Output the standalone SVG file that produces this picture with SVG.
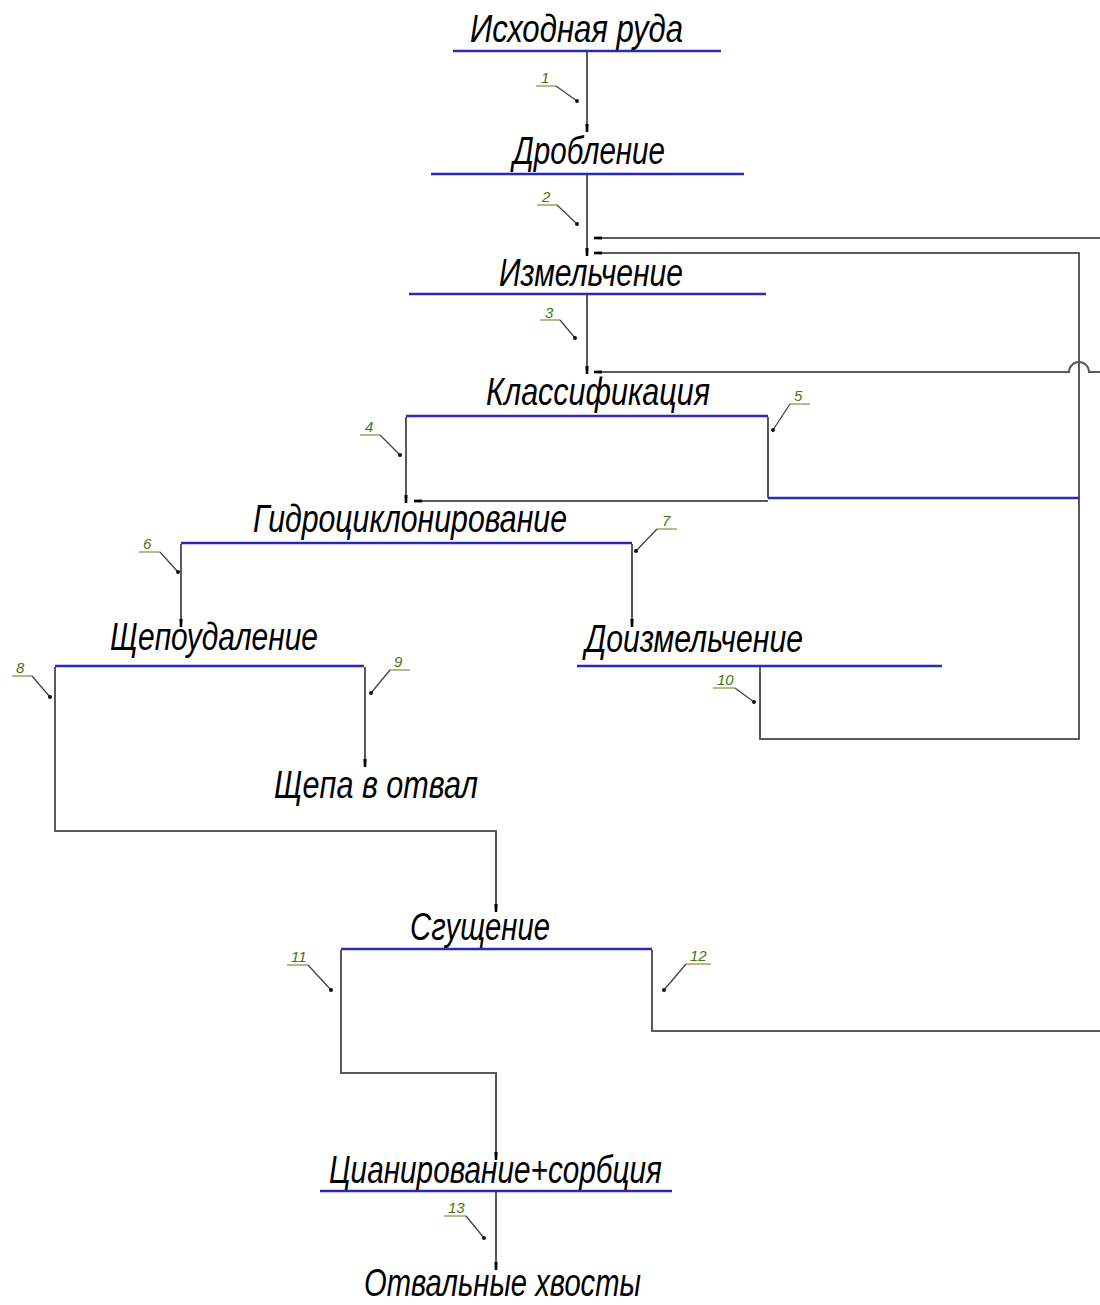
<svg xmlns="http://www.w3.org/2000/svg" width="1100" height="1305" viewBox="0 0 1100 1305">
<style>
.lbl{font-family:"Liberation Sans Narrow","Liberation Sans","DejaVu Sans",sans-serif;font-style:italic;font-size:38px;fill:#000}
.bar{stroke:#2a2ab8;stroke-width:2.6;fill:none}
.con{stroke:#5a5a5a;stroke-width:2;fill:none;marker-end:url(#tick)}
.conn{stroke:#5a5a5a;stroke-width:2;fill:none}
.num{font-family:"Liberation Sans","DejaVu Sans",sans-serif;font-style:italic;font-size:15px;fill:#3d7a12}
.ul{stroke:#9a9a5a;stroke-width:1.4;fill:none}
.ld{stroke:#444;stroke-width:1.3;fill:none}
.dot{fill:#111}
</style>
<defs>
<marker id="tick" markerUnits="userSpaceOnUse" markerWidth="10" markerHeight="6" viewBox="0 -3 10 6" refX="8" refY="0" orient="auto">
<path d="M0,-1.6 L8,-1.2 L8,1.2 L0,1.6 Z" fill="#000"/>
</marker>
</defs>
<rect width="1100" height="1305" fill="#fff"/>

<g id="connectors">
<path class="con" d="M587,52 V132"/>
<path class="con" d="M587,175 V256"/>
<path class="con" d="M1100,238 H594"/>
<path class="con" d="M760,667 V739 H1079 V253 H594"/>
<path class="con" d="M587,295 V374"/>
<path class="con" d="M1100,372 H1089 A10,10 0 0 0 1069,372 H594"/>
<path class="con" d="M406,417 V503"/>
<path class="con" d="M768,501 H414"/>
<path class="conn" d="M768,417 V498"/>
<path class="bar" d="M768,498 H1079"/>
<path class="con" d="M181,544 V627"/>
<path class="con" d="M632,544 V627"/>
<path class="con" d="M55,667 V831 H496 V912"/>
<path class="con" d="M365,667 V767"/>
<path class="con" d="M341,950 V1073 H496 V1160"/>
<path class="conn" d="M652,950 V1031 H1100"/>
<path class="con" d="M496,1192 V1270"/>
</g>

<g id="n-ishodnaya"><text class="lbl" x="470" y="42" textLength="213" lengthAdjust="spacingAndGlyphs">Исходная руда</text><line class="bar" x1="453" y1="51" x2="721" y2="51"/></g>
<g id="n-droblenie"><text class="lbl" x="513" y="164" textLength="152" lengthAdjust="spacingAndGlyphs">Дробление</text><line class="bar" x1="431" y1="174" x2="744" y2="174"/></g>
<g id="n-izmelchenie"><text class="lbl" x="499" y="286" textLength="184" lengthAdjust="spacingAndGlyphs">Измельчение</text><line class="bar" x1="409" y1="294" x2="766" y2="294"/></g>
<g id="n-klassifikaciya"><text class="lbl" x="486" y="405" textLength="224" lengthAdjust="spacingAndGlyphs">Классификация</text><line class="bar" x1="406" y1="416" x2="768" y2="416"/></g>
<g id="n-gidro"><text class="lbl" x="253" y="532" textLength="314" lengthAdjust="spacingAndGlyphs">Гидроциклонирование</text><line class="bar" x1="181" y1="543" x2="632" y2="543"/></g>
<g id="n-shchepoud"><text class="lbl" x="110" y="650" textLength="208" lengthAdjust="spacingAndGlyphs">Щепоудаление</text><line class="bar" x1="55" y1="666" x2="364" y2="666"/></g>
<g id="n-doizmel"><text class="lbl" x="585" y="652" textLength="218" lengthAdjust="spacingAndGlyphs">Доизмельчение</text><line class="bar" x1="577" y1="666" x2="942" y2="666"/></g>
<g id="n-shchepa"><text class="lbl" x="274" y="798" textLength="204" lengthAdjust="spacingAndGlyphs">Щепа в отвал</text></g>
<g id="n-sgushchenie"><text class="lbl" x="410" y="940" textLength="140" lengthAdjust="spacingAndGlyphs">Сгущение</text><line class="bar" x1="341" y1="949" x2="652" y2="949"/></g>
<g id="n-cianir"><text class="lbl" x="329" y="1183" textLength="333" lengthAdjust="spacingAndGlyphs">Цианирование+сорбция</text><line class="bar" x1="320" y1="1191" x2="672" y2="1191"/></g>
<g id="n-otval"><text class="lbl" x="364" y="1296" textLength="277" lengthAdjust="spacingAndGlyphs">Отвальные хвосты</text></g>

<g id="leaders">
<g id="l1"><text class="num" x="541" y="83">1</text><path class="ul" d="M536,86 H556"/><path class="ld" d="M556,86 L577,101"/><circle class="dot" cx="577" cy="101" r="2"/></g>
<g id="l2"><text class="num" x="542" y="202">2</text><path class="ul" d="M537,205 H557"/><path class="ld" d="M557,205 L577,224"/><circle class="dot" cx="577" cy="224" r="2"/></g>
<g id="l3"><text class="num" x="545" y="318">3</text><path class="ul" d="M540,320 H560"/><path class="ld" d="M560,320 L575,338"/><circle class="dot" cx="575" cy="338" r="2"/></g>
<g id="l4"><text class="num" x="365" y="432">4</text><path class="ul" d="M360,435 H380"/><path class="ld" d="M380,435 L400,455"/><circle class="dot" cx="400" cy="455" r="2"/></g>
<g id="l5"><text class="num" x="794" y="401">5</text><path class="ul" d="M790,404 H810"/><path class="ld" d="M790,404 L773,430"/><circle class="dot" cx="773" cy="430" r="2"/></g>
<g id="l6"><text class="num" x="143" y="549">6</text><path class="ul" d="M139,552 H160"/><path class="ld" d="M160,552 L178,572"/><circle class="dot" cx="178" cy="572" r="2"/></g>
<g id="l7"><text class="num" x="662" y="526">7</text><path class="ul" d="M657,529 H677"/><path class="ld" d="M657,529 L636,551"/><circle class="dot" cx="636" cy="551" r="2"/></g>
<g id="l8"><text class="num" x="16" y="673">8</text><path class="ul" d="M12,676 H32"/><path class="ld" d="M32,676 L50,697"/><circle class="dot" cx="50" cy="697" r="2"/></g>
<g id="l9"><text class="num" x="394" y="667">9</text><path class="ul" d="M390,670 H410"/><path class="ld" d="M390,670 L371,693"/><circle class="dot" cx="371" cy="693" r="2"/></g>
<g id="l10"><text class="num" x="717" y="685">10</text><path class="ul" d="M713,688 H735"/><path class="ld" d="M735,688 L754,702"/><circle class="dot" cx="754" cy="702" r="2"/></g>
<g id="l11"><text class="num" x="291" y="962">11</text><path class="ul" d="M287,965 H308"/><path class="ld" d="M308,965 L331,990"/><circle class="dot" cx="331" cy="990" r="2"/></g>
<g id="l12"><text class="num" x="690" y="961">12</text><path class="ul" d="M686,964 H711"/><path class="ld" d="M686,964 L664,990"/><circle class="dot" cx="664" cy="990" r="2"/></g>
<g id="l13"><text class="num" x="448" y="1213">13</text><path class="ul" d="M444,1216 H466"/><path class="ld" d="M466,1216 L484,1238"/><circle class="dot" cx="484" cy="1238" r="2"/></g>
</g>
</svg>
